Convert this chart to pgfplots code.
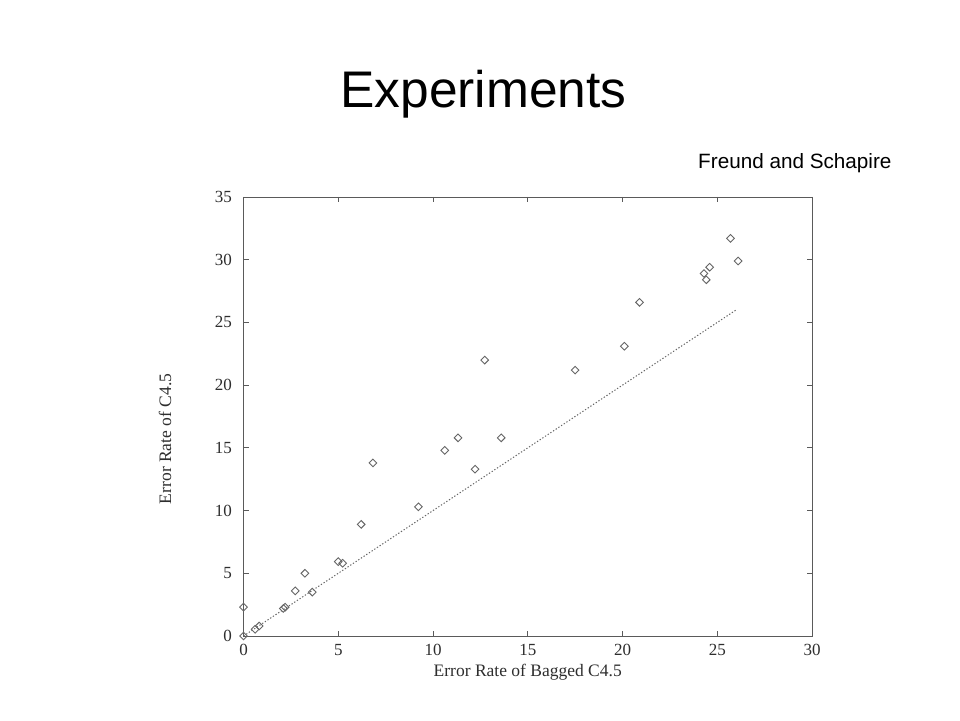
\documentclass[border=0pt]{standalone}
\usepackage{fontspec}
\setmainfont{Liberation Serif}
\newfontfamily\arial{Liberation Sans}
\usepackage{pgfplots}
\pgfplotsset{compat=1.18}
\definecolor{axgray}{HTML}{5A5A5A}
\definecolor{mkgray}{HTML}{666666}
\definecolor{txgray}{HTML}{2E2E2E}
\begin{document}
\begin{tikzpicture}
\useasboundingbox[fill=white] (0pt,0pt) rectangle (960pt,720pt);
\node[font=\arial\fontsize{51.5}{56}\selectfont, anchor=center] at (483.5pt,626pt) {Experiments};
\node[font=\arial\fontsize{20.7}{24}\selectfont, anchor=west, inner sep=0pt] at (698pt,557pt) {Freund and Schapire};
\begin{axis}[
  at={(243.5pt,84pt)}, anchor=south west,
  scale only axis, width=568.5pt, height=439pt,
  xmin=0, xmax=30, ymin=0, ymax=35,
  xtick={0,5,...,30}, ytick={0,5,...,35},
  tick align=inside, major tick length=5pt,
  axis line style={axgray, line width=0.9pt},
  every tick/.style={axgray, line width=0.9pt},
  /pgf/number format/assume math mode=true,
  ticklabel style={font=\fontsize{17}{19}\selectfont, text=txgray},
  xticklabel style={yshift=-5pt},
  yticklabel style={xshift=-8pt},
  label style={font=\fontsize{17.5}{20}\selectfont, text=txgray},
  xlabel={Error Rate of Bagged C4.5},
  xlabel style={at={(axis description cs:0.5,-0.082)}, anchor=center},
  ylabel={Error Rate of C4.5},
  ylabel style={at={(axis description cs:-0.138,0.449)}, anchor=center},
  clip=false,
]
\addplot[mkgray, dash pattern=on 1.3pt off 1.9pt, line width=1pt] coordinates {(0,0) (26.05,26.05)};
\addplot[only marks, mark=square, mark size=2.7pt, mkgray, line width=0.9pt,
  every mark/.append style={rotate=45}] coordinates {
(0,0) (0,2.3) (0.61,0.53) (0.83,0.8)
(2.1,2.2) (2.2,2.3) (2.73,3.6) (3.24,5.0) (3.63,3.5)
(5.0,5.93) (5.23,5.8) (6.21,8.9) (6.83,13.8) (9.23,10.3)
(10.62,14.8) (11.32,15.8) (12.22,13.3) (13.6,15.8) (12.73,22.0)
(17.5,21.2) (20.1,23.1) (20.9,26.6)
(24.3,28.9) (24.42,28.4) (24.6,29.4) (25.7,31.7) (26.1,29.9)
};
\end{axis}
\end{tikzpicture}
\end{document}
